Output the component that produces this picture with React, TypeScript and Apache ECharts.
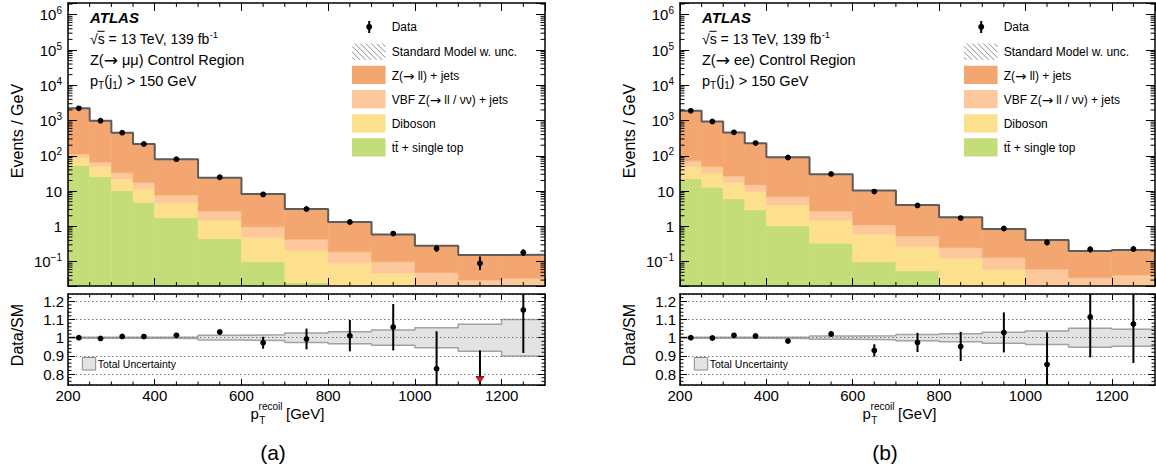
import React, { useEffect, useRef } from 'react';
import * as echarts from 'echarts';

// ---------------- data ----------------
const binEdges = [200, 250, 300, 350, 400, 500, 600, 700, 800, 900, 1000, 1100, 1200, 1300];
const binCenters = [225, 275, 325, 375, 450, 550, 650, 750, 850, 950, 1050, 1150, 1250];

// (a) Z(→μμ) control region, events / GeV
const ttbarA = [53, 25.3, 10.3, 4.72, 1.74, 0.44, 0.099, 0.025, 0.008, 0.004, 0.002, 0.001, 0.001];
const dibosonA = [36, 24.3, 11.9, 6.9, 2.96, 1.08, 0.39, 0.18, 0.082, 0.043, 0.013, 0.009, 0.009];
const vbfA = [23, 16.4, 10.7, 5.9, 3.1, 1.23, 0.48, 0.225, 0.1, 0.053, 0.034, 0.02, 0.024];
const zjetsA = [2108, 929, 417, 197.5, 71.7, 21.25, 7.33, 2.7, 1.13, 0.49, 0.231, 0.125, 0.123];
const dataA = [2220, 990, 453, 216, 80.5, 24.7, 8.07, 3.11, 1.335, 0.625, 0.235, 0.09, 0.181];
const dataLoA = [2180, 970, 444, 211, 78.8, 24.2, 7.8, 2.94, 1.22, 0.55, 0.19, 0.058, 0.145];
const dataHiA = [2260, 1010, 462, 221, 82.2, 25.2, 8.35, 3.28, 1.45, 0.7, 0.29, 0.14, 0.225];
const ratioA = [1.0, 0.996, 1.007, 1.006, 1.013, 1.031, 0.972, 0.993, 1.011, 1.059, 0.829, 0.58, 1.152];
const ratioLoA = [0.997, 0.993, 1.003, 1.002, 1.008, 1.019, 0.939, 0.936, 0.925, 0.93, 0.6, 0.4, 0.916];
const ratioHiA = [1.003, 0.999, 1.011, 1.01, 1.018, 1.043, 1.005, 1.05, 1.097, 1.185, 1.035, 0.93, 1.4];
const uncA = [0.003, 0.003, 0.003, 0.003, 0.004, 0.013, 0.016, 0.026, 0.033, 0.042, 0.055, 0.074, 0.1];

// (b) Z(→ee) control region, events / GeV
const ttbarB = [22.2, 12.9, 6.0, 2.93, 1.03, 0.331, 0.098, 0.054, 0.012, 0.006, 0.003, 0.002, 0.002];
const dibosonB = [27.5, 19.2, 11.5, 6.77, 3.03, 1.13, 0.5, 0.213, 0.112, 0.0546, 0.006, 0.006, 0.006];
const vbfB = [22.3, 17.6, 9.5, 5.3, 2.94, 1.28, 0.5, 0.268, 0.125, 0.0694, 0.0516, 0.027, 0.034];
const zjetsB = [1816, 892, 431, 213, 84.5, 27.4, 9.3, 3.5, 1.56, 0.715, 0.351, 0.165, 0.172];
const dataB = [1885, 940, 464, 230, 89.9, 30.7, 9.67, 3.93, 1.72, 0.87, 0.351, 0.223, 0.23];
const dataLoB = [1860, 925, 457, 226, 88, 29.9, 9.3, 3.72, 1.58, 0.78, 0.29, 0.18, 0.19];
const dataHiB = [1910, 955, 471, 234, 91.8, 31.5, 10.05, 4.14, 1.87, 0.96, 0.42, 0.27, 0.275];
const ratioB = [1.0, 0.998, 1.013, 1.009, 0.982, 1.02, 0.93, 0.974, 0.952, 1.029, 0.853, 1.114, 1.075];
const ratioLoB = [0.997, 0.995, 1.009, 1.005, 0.978, 1.004, 0.896, 0.921, 0.872, 0.919, 0.6, 0.892, 0.861];
const ratioHiB = [1.003, 1.001, 1.017, 1.013, 0.986, 1.036, 0.964, 1.027, 1.032, 1.139, 1.029, 1.4, 1.4];
const uncB = [0.003, 0.003, 0.003, 0.003, 0.004, 0.009, 0.011, 0.017, 0.022, 0.03, 0.037, 0.052, 0.047];

// axis ranges and tick values
const X_MIN = 200;
const X_MAX = 1300;
const Y_LOG_MIN = 0.0204;
const Y_LOG_MAX = 2.15e6;
const R_MIN = 0.74;
const R_MAX = 1.24;
const xMinorTicks = [250, 300, 350, 450, 500, 550, 650, 700, 750, 850, 900, 950, 1050, 1100, 1150, 1250];
const ratioMinorTicks = [0.76, 0.78, 0.82, 0.84, 0.86, 0.88, 0.92, 0.94, 0.96, 0.98, 1.02, 1.04, 1.06, 1.08, 1.12, 1.14, 1.16, 1.18, 1.22];
const logMinorTicks: number[] = [];
for (let n = -2; n <= 6; n++) {
  for (let k = 2; k <= 9; k++) {
    const v = k * Math.pow(10, n);
    if (v > Y_LOG_MIN && v < Y_LOG_MAX) logMinorTicks.push(v);
  }
}

const legendLabels = ['Data', 'Standard Model w. unc.', 'Z(→ ll) + jets', 'VBF Z(→ ll / νν) + jets', 'Diboson', 'tt\u0304 + single top'];

// ---------------- style ----------------
const FONT = '"Liberation Sans", Arial, Helvetica, sans-serif';
const ARROW_FONT = '"DejaVu Sans", "Liberation Sans", sans-serif';
const C_ZJ = '#f3a66f';
const C_VBF = '#fdc89b';
const C_DB = '#fde08e';
const C_TT = '#c5dd78';

const panels = [
  {
    dx: 0, w: 477, tag: '(a)', region: 'Z(→ μμ) Control Region',
    layers: [ttbarA, dibosonA, vbfA, zjetsA],
    data: dataA, lo: dataLoA, hi: dataHiA, r: ratioA, rlo: ratioLoA, rhi: ratioHiA, unc: uncA,
  },
  {
    dx: 612, w: 475, tag: '(b)', region: 'Z(→ ee) Control Region',
    layers: [ttbarB, dibosonB, vbfB, zjetsB],
    data: dataB, lo: dataLoB, hi: dataHiB, r: ratioB, rlo: ratioLoB, rhi: ratioHiB, unc: uncB,
  },
];
const layerColors = [C_TT, C_DB, C_VBF, C_ZJ];

function hatch(x0: number, y0: number, w: number, h: number, step: number) {
  const out: any[] = [];
  for (let c = x0 - y0 - h + step / 2; c <= x0 + w - y0; c += step) {
    const ya = Math.max(y0, x0 - c);
    const yb = Math.min(y0 + h, x0 + w - c);
    if (yb - ya > 0.5) {
      out.push({
        type: 'line', z: 20,
        shape: { x1: c + ya, y1: ya, x2: c + yb, y2: yb },
        style: { stroke: '#808080', lineWidth: 0.9 },
      });
    }
  }
  return out;
}

function arrowRich(size: number) {
  return { ar: { fontSize: size, fontFamily: ARROW_FONT, fill: '#000', color: '#000' } };
}

function txt(x: number, y: number, text: string, size: number, extra: any = {}) {
  return {
    type: 'text', x, y, z: 20,
    style: {
      text, fontSize: size, fontFamily: FONT, fill: '#000',
      align: 'left', verticalAlign: 'middle', textAlign: 'left', textVerticalAlign: 'middle',
      ...extra,
    },
  };
}

function txtArrow(x: number, y: number, text: string, size: number, arrowSize: number) {
  return txt(x, y, text.replace('→', '{ar|→}'), size, { lineHeight: size + 4, rich: arrowRich(arrowSize) });
}

function buildOption() {
  const grids: any[] = [];
  const xAxes: any[] = [];
  const yAxes: any[] = [];
  const series: any[] = [];
  const graphics: any[] = [];

  const tickSeries = (g: number, dir: 'x' | 'y', values: number[], len: number) => ({
    type: 'custom', xAxisIndex: 2 * g, yAxisIndex: 2 * g, z: 11, silent: true,
    encode: { x: 0, y: 1 },
    data: values.map((v) => (dir === 'y' ? [X_MIN, v] : [v, 1])),
    renderItem: (params: any, api: any) => {
      const cs = params.coordSys;
      const p = api.coord([api.value(0), api.value(1)]);
      const st = { stroke: '#000', lineWidth: 1 };
      if (dir === 'y') {
        return {
          type: 'group', children: [
            { type: 'line', shape: { x1: cs.x, y1: p[1], x2: cs.x + len, y2: p[1] }, style: st },
            { type: 'line', shape: { x1: cs.x + cs.width - len, y1: p[1], x2: cs.x + cs.width, y2: p[1] }, style: st },
          ],
        };
      }
      return {
        type: 'group', children: [
          { type: 'line', shape: { x1: p[0], y1: cs.y + cs.height, x2: p[0], y2: cs.y + cs.height - len }, style: st },
          { type: 'line', shape: { x1: p[0], y1: cs.y, x2: p[0], y2: cs.y + len }, style: st },
        ],
      };
    },
  });

  const pointSeries = (g: number, xs: number[], v: number[], lo: number[], hi: number[], yMin: number, yMax: number) => ({
    type: 'custom', xAxisIndex: 2 * g, yAxisIndex: 2 * g, z: 12, silent: true,
    encode: { x: 0, y: [1, 2, 3] },
    data: xs.map((x, i) => [x, v[i], lo[i], hi[i]]),
    renderItem: (params: any, api: any) => {
      const cs = params.coordSys;
      const top = cs.y;
      const bot = cs.y + cs.height;
      const cl = (y: number) => Math.max(top, Math.min(bot, y));
      const x = api.value(0);
      const val = api.value(1);
      const yl = cl(api.coord([x, api.value(2)])[1]);
      const yh = cl(api.coord([x, api.value(3)])[1]);
      const p = api.coord([x, Math.min(Math.max(val, yMin), yMax)]);
      const children: any[] = [
        { type: 'line', shape: { x1: p[0], y1: yl, x2: p[0], y2: yh }, style: { stroke: '#000', lineWidth: 2 } },
      ];
      if (val >= yMin && val <= yMax) {
        children.push({ type: 'circle', shape: { cx: p[0], cy: p[1], r: 2.9 }, style: { fill: '#000' } });
      } else if (val < yMin) {
        children.push({
          type: 'polygon',
          shape: { points: [[p[0] - 4, bot - 8.5], [p[0] + 4, bot - 8.5], [p[0], bot - 2.5]] },
          style: { fill: '#e3161c', stroke: '#6a0000', lineWidth: 0.8 },
        });
      }
      return { type: 'group', children };
    },
  });

  panels.forEach((P, pi) => {
    const gT = pi * 2;
    const gR = pi * 2 + 1;
    const left = 68 + P.dx;
    grids.push({ left, top: 3, width: P.w, height: 283, containLabel: false, outerBoundsMode: 'none' });
    grids.push({ left, top: 294, width: P.w, height: 91, containLabel: false, outerBoundsMode: 'none' });

    // x axes
    [gT, gR].forEach((g) => {
      const isR = g === gR;
      const base = {
        type: 'value', gridIndex: g, min: X_MIN, max: X_MAX, interval: 200, z: 10,
        axisLine: { show: true, onZero: false, lineStyle: { color: '#000', width: 1.5 } },
        axisTick: { show: true, inside: true, length: isR ? 6 : 8, lineStyle: { color: '#000', width: 1 } },
        splitLine: { show: false }, minorTick: { show: false },
      };
      xAxes.push({
        ...base, position: 'bottom',
        axisLabel: isR
          ? { show: true, fontSize: 15, fontFamily: FONT, color: '#000', margin: 3, showMaxLabel: false, formatter: (v: number) => (v % 200 === 0 ? String(v) : '') }
          : { show: false },
      });
      xAxes.push({ ...base, position: 'top', axisLabel: { show: false } });
    });

    // y axes, top (log)
    const logBase = {
      type: 'log', logBase: 10, gridIndex: gT, min: Y_LOG_MIN, max: Y_LOG_MAX, z: 10,
      axisLine: { show: true, onZero: false, lineStyle: { color: '#000', width: 1.5 } },
      axisTick: { show: true, inside: true, length: 9, lineStyle: { color: '#000', width: 1 } },
      splitLine: { show: false }, minorTick: { show: false },
    };
    yAxes.push({
      ...logBase, position: 'left',
      axisLabel: {
        show: true, margin: 6, color: '#000', fontFamily: FONT,
        formatter: (v: number) => {
          const l = Math.log10(v);
          const e = Math.round(l);
          if (Math.abs(l - e) > 1e-6) return '';
          if (e === 0) return '{b|1}';
          if (e === 1) return '{b|10}';
          return '{b|10}{s|' + (e < 0 ? '\u2212' + -e : String(e)) + '}';
        },
        rich: {
          b: { fontSize: 15, lineHeight: 18, fontFamily: FONT, color: '#000' },
          s: { fontSize: 10, lineHeight: 7, verticalAlign: 'top', fontFamily: FONT, color: '#000' },
        },
      },
    });
    yAxes.push({ ...logBase, position: 'right', axisLabel: { show: false } });

    // y axes, ratio
    const rBase = {
      type: 'value', gridIndex: gR, min: R_MIN, max: R_MAX, splitNumber: 5, z: 10,
      axisLine: { show: true, onZero: false, lineStyle: { color: '#000', width: 1.5 } },
      axisTick: { show: true, inside: true, length: 7, lineStyle: { color: '#000', width: 1 } },
      minorTick: { show: false },
    };
    yAxes.push({
      ...rBase, position: 'left',
      splitLine: { show: true, lineStyle: { color: '#7a7a7a', width: 1, type: [1.5, 2.5] } },
      axisLabel: {
        show: true, margin: 4, fontSize: 15, fontFamily: FONT, color: '#000', showMinLabel: false, showMaxLabel: false,
        formatter: (v: number) => {
          const r = Math.round(v * 10) / 10;
          if (Math.abs(v - r) > 1e-6) return '';
          return String(r);
        },
      },
    });
    yAxes.push({ ...rBase, position: 'right', splitLine: { show: false }, axisLabel: { show: false } });

    // stacked histogram
    const cum = binCenters.map(() => 1e-4);
    P.layers.forEach((L, li) => {
      const d = L.map((v, i) => {
        const b = cum[i];
        const t = b + v;
        cum[i] = t;
        return [binEdges[i], binEdges[i + 1], b, t];
      });
      const col = layerColors[li];
      series.push({
        type: 'custom', xAxisIndex: 2 * gT, yAxisIndex: 2 * gT, z: 2, silent: true,
        encode: { x: [0, 1], y: [2, 3] },
        data: d,
        renderItem: (params: any, api: any) => {
          const b = Math.max(api.value(2), Y_LOG_MIN);
          const t = Math.min(api.value(3), Y_LOG_MAX);
          if (t <= b) return null;
          const p0 = api.coord([api.value(0), b]);
          const p1 = api.coord([api.value(1), t]);
          return {
            type: 'rect',
            shape: { x: p0[0], y: p1[1], width: p1[0] - p0[0], height: p0[1] - p1[1] },
            style: { fill: col, stroke: col, lineWidth: 0.5 },
          };
        },
      });
    });
    const totals = cum.slice();
    series.push({
      type: 'line', xAxisIndex: 2 * gT, yAxisIndex: 2 * gT, z: 3, silent: true, step: 'end',
      symbol: 'none', lineStyle: { color: '#5c5c5c', width: 2 },
      data: binEdges.map((e, i) => [e, totals[Math.min(i, totals.length - 1)]]),
    });
    series.push(pointSeries(gT, binCenters, P.data, P.lo, P.hi, Y_LOG_MIN, Y_LOG_MAX));

    // ratio band
    series.push({
      type: 'custom', xAxisIndex: 2 * gR, yAxisIndex: 2 * gR, z: 2, silent: true,
      encode: { x: [0, 1], y: [2, 3] },
      data: P.unc.map((u, i) => [binEdges[i], binEdges[i + 1], 1 - u, 1 + u]),
      renderItem: (params: any, api: any) => {
        const p0 = api.coord([api.value(0), api.value(2)]);
        const p1 = api.coord([api.value(1), api.value(3)]);
        return {
          type: 'rect',
          shape: { x: p0[0], y: p1[1], width: p1[0] - p0[0], height: p0[1] - p1[1] },
          style: { fill: '#e3e3e3', stroke: '#e3e3e3', lineWidth: 0.5 },
        };
      },
    });
    [1, -1].forEach((sgn) => {
      series.push({
        type: 'line', xAxisIndex: 2 * gR, yAxisIndex: 2 * gR, z: 3, silent: true, step: 'end',
        symbol: 'none', lineStyle: { color: '#a2a2a2', width: 1.5 },
        data: binEdges.map((e, i) => [e, 1 + sgn * P.unc[Math.min(i, P.unc.length - 1)]]),
      });
    });
    series.push(pointSeries(gR, binCenters, P.r, P.rlo, P.rhi, R_MIN, R_MAX));

    // minor ticks
    series.push(tickSeries(gT, 'x', xMinorTicks, 4));
    series.push(tickSeries(gT, 'y', logMinorTicks, 4.5));
    series.push(tickSeries(gR, 'x', xMinorTicks, 3.5));
    series.push(tickSeries(gR, 'y', ratioMinorTicks, 3.5));

    // ---------- texts ----------
    const dx = P.dx;
    graphics.push({
      type: 'text', x: 90 + dx, y: 17, z: 20,
      style: { text: 'ATLAS', font: 'italic bold 15px ' + FONT, fill: '#000', align: 'left', verticalAlign: 'middle', textAlign: 'left', textVerticalAlign: 'middle' },
    });
    graphics.push(txt(90 + dx, 38.5, '\u221As = 13 TeV, 139 fb{s|-1}', 14, {
      lineHeight: 18,
      rich: { s: { fontSize: 9.5, lineHeight: 7, verticalAlign: 'top', fontFamily: FONT, fill: '#000' } },
    }));
    graphics.push({ type: 'line', z: 20, shape: { x1: 97.4 + dx, y1: 31.3, x2: 104.6 + dx, y2: 31.3 }, style: { stroke: '#000', lineWidth: 1 } });
    graphics.push(txtArrow(90 + dx, 60, P.region, 14.5, 17));
    graphics.push(txt(90 + dx, 81, 'p{s|T}(j{s|1}) > 150 GeV', 14.5, {
      lineHeight: 18,
      rich: { s: { fontSize: 10, lineHeight: 8, verticalAlign: 'bottom', fontFamily: FONT, fill: '#000' } },
    }));

    // legend
    const lx = 352 + dx;
    const tx = 391.7 + dx;
    graphics.push({ type: 'line', z: 20, shape: { x1: 369.2 + dx, y1: 21, x2: 369.2 + dx, y2: 33 }, style: { stroke: '#000', lineWidth: 2 } });
    graphics.push({ type: 'circle', z: 20, shape: { cx: 369.2 + dx, cy: 26.8, r: 3 }, style: { fill: '#000' } });
    graphics.push(txt(tx, 26.8, legendLabels[0], 12));
    hatch(lx, 43.5, 33.6, 16.5, 5.5).forEach((h) => graphics.push(h));
    graphics.push(txt(tx, 51.8, legendLabels[1], 12));
    const boxY = [65.7, 90, 114.3, 138.3];
    const boxC = [C_ZJ, C_VBF, C_DB, C_TT];
    const textY = [76, 100, 123.5, 147.5];
    for (let i = 0; i < 4; i++) {
      graphics.push({ type: 'rect', z: 20, shape: { x: lx, y: boxY[i], width: 33.6, height: 18.3 }, style: { fill: boxC[i] } });
      graphics.push(txtArrow(tx, textY[i], legendLabels[2 + i], 12, 13.5));
    }
    // total uncertainty legend
    graphics.push({ type: 'rect', z: 20, shape: { x: 82.3 + dx, y: 357.5, width: 13.4, height: 12.5 }, style: { fill: '#e3e3e3', stroke: '#8a8a8a', lineWidth: 1 } });
    graphics.push(txt(97.7 + dx, 364, 'Total Uncertainty', 10.5));

    // axis titles
    graphics.push({
      type: 'text', x: 17.5 + dx, y: 131, rotation: Math.PI / 2, z: 20,
      style: { text: 'Events / GeV', fontSize: 16, fontFamily: FONT, fill: '#000', align: 'center', verticalAlign: 'middle', textAlign: 'center', textVerticalAlign: 'middle' },
    });
    graphics.push({
      type: 'text', x: 17.5 + dx, y: 335, rotation: Math.PI / 2, z: 20,
      style: { text: 'Data/SM', fontSize: 16, fontFamily: FONT, fill: '#000', align: 'center', verticalAlign: 'middle', textAlign: 'center', textVerticalAlign: 'middle' },
    });
    graphics.push(txt(250.5 + dx, 413, 'p', 15));
    graphics.push(txt(258.6 + dx, 406.5, 'recoil', 10));
    graphics.push(txt(259.3 + dx, 420.5, 'T', 10));
    graphics.push(txt(286 + dx, 413, '[GeV]', 15));
    graphics.push(txt(273 + dx, 452, P.tag, 21, { align: 'center', textAlign: 'center' }));
  });

  return {
    animation: false,
    backgroundColor: '#fff',
    textStyle: { fontFamily: FONT, color: '#000' },
    grid: grids,
    xAxis: xAxes,
    yAxis: yAxes,
    series,
    graphic: { elements: graphics },
  };
}

export default function App() {
  const ref = useRef<HTMLDivElement>(null);
  useEffect(() => {
    if (!ref.current) return;
    const chart = echarts.init(ref.current, null, { renderer: 'svg' });
    chart.setOption(buildOption() as any);
    return () => {
      chart.dispose();
    };
  }, []);
  return (
    <div
      ref={ref}
      style={{ position: 'absolute', left: 0, top: 0, width: 1156, height: 472, background: '#fff' }}
    />
  );
}
